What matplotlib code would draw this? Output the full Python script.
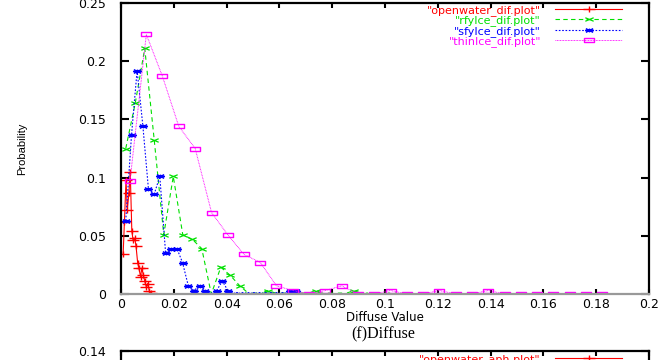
import matplotlib
matplotlib.use("Agg")
import matplotlib.pyplot as plt
from matplotlib.path import Path

# ---------------- data ----------------
x_ticks = [0, 0.02, 0.04, 0.06, 0.08, 0.1, 0.12, 0.14, 0.16, 0.18, 0.2]
x_tick_labels = ["0", "0.02", "0.04", "0.06", "0.08", "0.1", "0.12", "0.14", "0.16", "0.18", "0.2"]
y_ticks = [0, 0.05, 0.1, 0.15, 0.2, 0.25]
y_tick_labels = ["0", "0.05", "0.1", "0.15", "0.2", "0.25"]

open_x = [0.0008, 0.0013, 0.0019, 0.0024, 0.0030, 0.0035, 0.0041, 0.0046, 0.0052,
          0.0057, 0.0063, 0.0068, 0.0074, 0.0079, 0.0085, 0.0090, 0.0096, 0.0101,
          0.0107, 0.0112]
open_y = [0.034, 0.062, 0.098, 0.072, 0.087, 0.105, 0.054, 0.046, 0.048,
          0.041, 0.027, 0.022, 0.015, 0.022, 0.016, 0.011, 0.006, 0.009,
          0.003, 0.001]

rfy_x = [0.0018, 0.0054, 0.0090, 0.0126, 0.0162, 0.0198, 0.0234, 0.0270, 0.0306,
         0.0342, 0.0378, 0.0414, 0.0450, 0.0486, 0.0522, 0.0558, 0.0594, 0.0630,
         0.0666, 0.0702, 0.0738, 0.0774, 0.0810, 0.0846, 0.0882, 0.0918, 0.0954,
         0.0990, 0.1026]
rfy_y = [0.125, 0.164, 0.211, 0.132, 0.051, 0.101, 0.051, 0.047, 0.039,
         0.000, 0.023, 0.016, 0.007, 0.000, 0.000, 0.003, 0.000, 0.000,
         0.000, 0.000, 0.003, 0.000, 0.000, 0.000, 0.003, 0.000, 0.000,
         0.000, 0.000]

sfy_x = [0.0018, 0.0040, 0.0061, 0.0083, 0.0104, 0.0126, 0.0147, 0.0169, 0.0190,
         0.0212, 0.0233, 0.0255, 0.0276, 0.0298, 0.0319, 0.0341, 0.0362, 0.0384,
         0.0405, 0.0427, 0.0448, 0.0470, 0.0491, 0.0513, 0.0534, 0.0556, 0.0577,
         0.0599, 0.0620, 0.0642, 0.0663]
sfy_y = [0.063, 0.137, 0.192, 0.144, 0.090, 0.086, 0.101, 0.035, 0.039,
         0.039, 0.027, 0.007, 0.003, 0.007, 0.003, 0.000, 0.003, 0.011,
         0.003, 0.000, 0.000, 0.000, 0.000, 0.000, 0.000, 0.000, 0.000,
         0.000, 0.000, 0.003, 0.003]

thin_x = [0.0034, 0.0096, 0.0157, 0.0219, 0.0281, 0.0343, 0.0404, 0.0466, 0.0528,
          0.0589, 0.0651, 0.0713, 0.0774, 0.0836, 0.0898, 0.0960, 0.1021, 0.1083,
          0.1145, 0.1206, 0.1268, 0.1330, 0.1391, 0.1453, 0.1515, 0.1577, 0.1638,
          0.1700, 0.1762, 0.1823]
thin_y = [0.097, 0.223, 0.187, 0.144, 0.125, 0.070, 0.051, 0.034, 0.027,
          0.007, 0.003, 0.000, 0.003, 0.007, 0.000, 0.000, 0.003, 0.000,
          0.000, 0.003, 0.000, 0.000, 0.003, 0.000, 0.000, 0.000, 0.000,
          0.000, 0.000, 0.000]

series_labels = ['"openwater_dif.plot"', '"rfyIce_dif.plot"',
                 '"sfyIce_dif.plot"', '"thinIce_dif.plot"']
second_label = '"openwater_aph.plot"'
second_y_ticks = [0, 0.02, 0.04, 0.06, 0.08, 0.1, 0.12, 0.14]
second_y_tick_labels = ["0", "0.02", "0.04", "0.06", "0.08", "0.1", "0.12", "0.14"]

# ---------------- markers (flattened gnuplot style) ----------------
M, L, C = Path.MOVETO, Path.LINETO, Path.CLOSEPOLY
h = 0.42
m_plus = Path([(-1, 0), (1, 0), (0, -h), (0, h)], [M, L, M, L])
m_cross = Path([(-1, -h), (1, h), (-1, h), (1, -h)], [M, L, M, L])
m_star = Path([(-1, 0), (1, 0), (0, -h), (0, h), (-0.8, -h), (0.8, h), (-0.8, h), (0.8, -h)],
              [M, L, M, L, M, L, M, L])
m_box = Path([(-1, -h), (1, -h), (1, h), (-1, h), (-1, -h)], [M, L, L, L, C])

RED, GREEN, BLUE, MAG = "#ff0000", "#00e000", "#0000ff", "#ff00ff"

fig = plt.figure(figsize=(6.69, 3.6), dpi=100)
W, H = 669.0, 360.0
ax = fig.add_axes([121 / W, 1 - 294 / H, (649 - 121) / W, (294 - 3) / H])

ax.plot(open_x, open_y, color=RED, lw=0.8, ls="-", marker=m_plus, ms=9,
        mew=1.0, label=series_labels[0])
ax.plot(rfy_x, rfy_y, color=GREEN, lw=0.8, ls=(0, (4, 3)), marker=m_cross, ms=6,
        mew=0.9, label=series_labels[1])
ax.plot(sfy_x, sfy_y, color=BLUE, lw=0.8, ls=(0, (1.5, 1.5)), marker=m_star, ms=6.5,
        mew=1.0, label=series_labels[2])
ax.plot(thin_x, thin_y, color=MAG, lw=0.7, ls=(0, (0.8, 0.8)), marker=m_box, ms=6.5,
        mew=1.0, mfc="none", label=series_labels[3])

ax.set_xlim(0, 0.2)
ax.set_ylim(0, 0.25)
ax.set_xticks(x_ticks)
ax.set_xticklabels(x_tick_labels)
ax.set_yticks(y_ticks)
ax.set_yticklabels(y_tick_labels)
ax.tick_params(axis="y", direction="in", length=6, width=1.5, left=True, right=True,
               labelsize=9, pad=11)
ax.tick_params(axis="x", direction="in", length=3.5, width=1.5, top=True, bottom=True,
               labelsize=9, pad=3)
for side in ["left", "right", "top"]:
    ax.spines[side].set_linewidth(1.6)
    ax.spines[side].set_color("black")
ax.spines["bottom"].set_linewidth(1.6)
ax.spines["bottom"].set_color("#999999")

ax.set_xlabel("Diffuse Value", fontsize=8.5, labelpad=0)
ax.set_ylabel("Probability", fontsize=8, family=["Liberation Sans", "DejaVu Sans"])
ax.yaxis.label.set_va("center")
ax.yaxis.set_label_coords((22 - 121) / 528, 0.5)

ax.legend(loc="upper right", bbox_to_anchor=((622 - 121) / 528, (294 - 5) / 291),
          borderaxespad=0, borderpad=0, frameon=False, markerfirst=False,
          fontsize=8, handlelength=6.0, handletextpad=1.3, labelspacing=-0.05,
          labelcolor="linecolor")

fig.text(383 / W, 1 - 334 / H, "(f)Diffuse", ha="center", va="center", fontsize=11.5,
         family=["Liberation Serif", "DejaVu Serif"])

# second (cut off) chart below
ax2 = fig.add_axes([121 / W, 1 - 351 / H - 291 / H, (649 - 121) / W, 291 / H])
ax2.plot([], [], color=RED, lw=0.8, marker=m_plus, ms=9, label=second_label)
ax2.set_xlim(0, 0.2)
ax2.set_ylim(0, 0.14)
ax2.set_xticks(x_ticks)
ax2.set_xticklabels(x_tick_labels)
ax2.set_yticks(second_y_ticks)
ax2.set_yticklabels(second_y_tick_labels)
ax2.tick_params(axis="y", direction="in", length=6, width=1.5, left=True, right=True,
                labelsize=9, pad=11)
ax2.tick_params(axis="x", direction="in", length=3.5, width=1.5, top=True, bottom=True,
                labelsize=9, pad=3)
for side in ["left", "right", "top", "bottom"]:
    ax2.spines[side].set_linewidth(1.6)
ax2.legend(loc="upper right", bbox_to_anchor=((622 - 121) / 528, 1 - 3 / 291),
           borderaxespad=0, borderpad=0, frameon=False, markerfirst=False,
           fontsize=8, handlelength=6.0, handletextpad=1.3, labelcolor="linecolor")

fig.savefig("out.png", dpi=100)
